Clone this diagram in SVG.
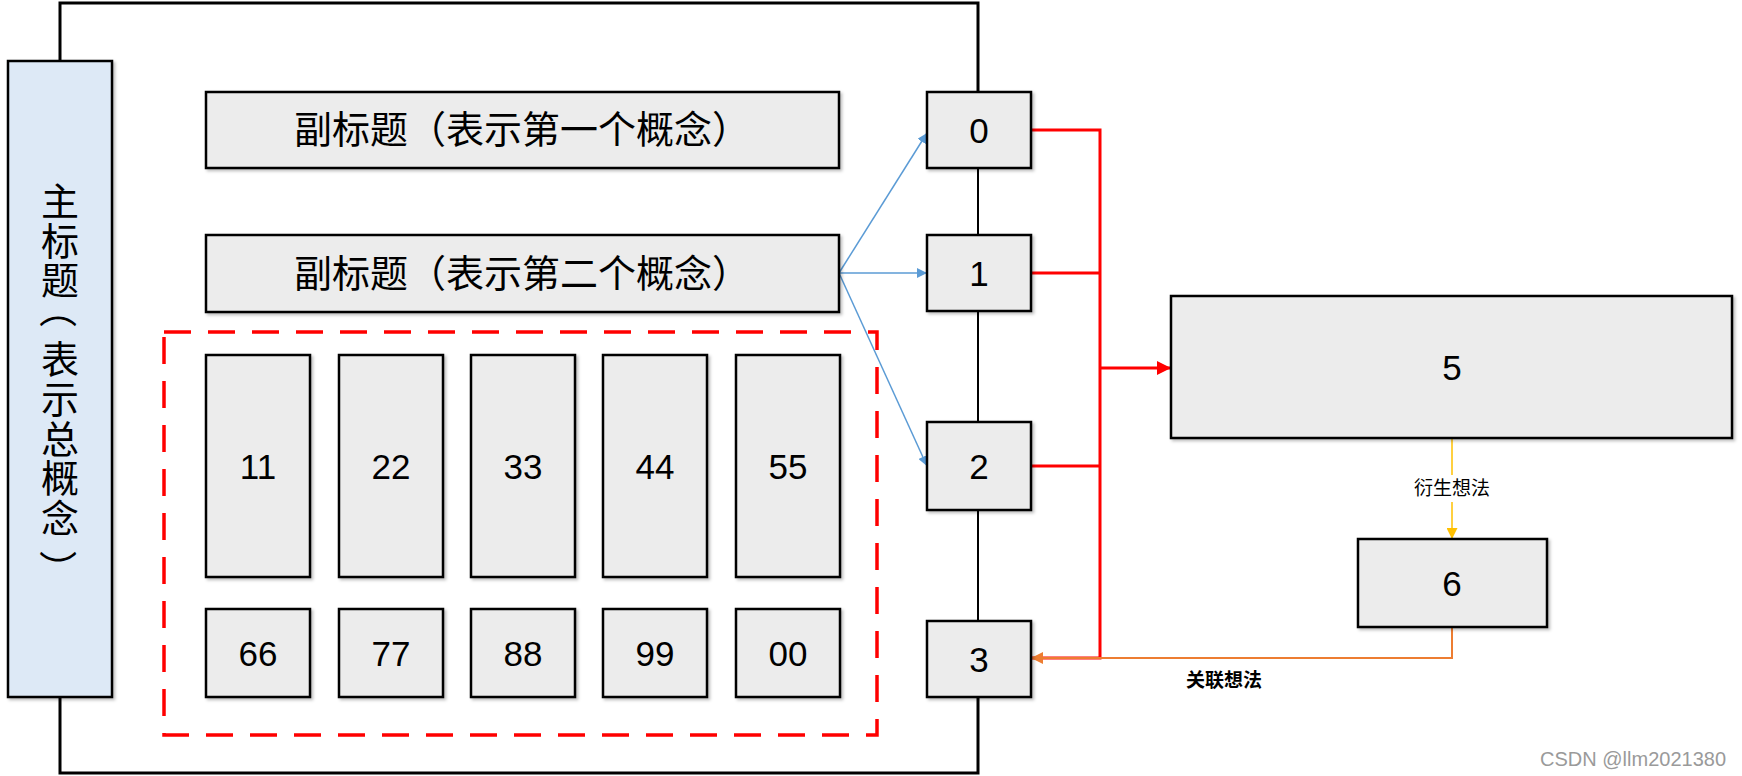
<svg xmlns="http://www.w3.org/2000/svg" width="1742" height="776" viewBox="0 0 1742 776">
<style>
.box{fill:#ececec;stroke:#000;stroke-width:2.5;filter:url(#sh)}
.num{font-family:"Liberation Sans","Noto Sans CJK SC",sans-serif;font-size:35px;fill:#000;text-anchor:middle}
.cjk{font-family:"Noto Sans CJK SC",sans-serif;fill:#000;text-anchor:middle}
.blue{stroke:#5b9bd5;stroke-width:1.5;fill:none}
.red{stroke:#ff0000;stroke-width:3;fill:none}
.vert{writing-mode:vertical-rl;text-orientation:upright;letter-spacing:1.6px}
</style>
<defs>
<filter id="sh" x="-10%" y="-10%" width="130%" height="130%">
<feDropShadow dx="2" dy="2" stdDeviation="1.5" flood-color="#000" flood-opacity="0.25"/>
</filter>
<marker id="ab" viewBox="0 0 10 10" refX="10" refY="5" markerWidth="10" markerHeight="10" markerUnits="userSpaceOnUse" orient="auto">
<path d="M0,0 L10,5 L0,10 z" fill="#5b9bd5"/>
</marker>
<marker id="ar" viewBox="0 0 10 10" refX="10" refY="5" markerWidth="14" markerHeight="14" markerUnits="userSpaceOnUse" orient="auto">
<path d="M0,0 L10,5 L0,10 z" fill="#ff0000"/>
</marker>
<marker id="ay" viewBox="0 0 10 10" refX="10" refY="5" markerWidth="11" markerHeight="11" markerUnits="userSpaceOnUse" orient="auto">
<path d="M0,0 L10,5 L0,10 z" fill="#ffc000"/>
</marker>
<marker id="ao" viewBox="0 0 10 10" refX="10" refY="5" markerWidth="12" markerHeight="12" markerUnits="userSpaceOnUse" orient="auto">
<path d="M0,0 L10,5 L0,10 z" fill="#ed7d31"/>
</marker>
</defs>
<rect x="0" y="0" width="1742" height="776" fill="#fff"/>

<g id="frame" fill="none" stroke="#000">
<path d="M60,61 V3 H978 V92" stroke-width="3"/>
<path d="M978,168 V621" stroke-width="2"/>
<path d="M978,697 V773 H60 V697" stroke-width="3"/>
</g>

<g id="connectors">
<path class="blue" d="M839,273 L927,133" marker-end="url(#ab)"/>
<path class="blue" d="M839,273 L927,273" marker-end="url(#ab)"/>
<path class="blue" d="M839,273 L927,466" marker-end="url(#ab)"/>
<path class="red" d="M1031,130 H1100 V658 H1031"/>
<path class="red" d="M1031,273 H1100"/>
<path class="red" d="M1031,466 H1100"/>
<path class="red" d="M1100,368 H1171" marker-end="url(#ar)"/>
<path d="M1452,438 V539" stroke="#ffc000" stroke-width="1.5" fill="none" marker-end="url(#ay)"/>
<path d="M1452,627 V658 H1031" stroke="#ed7d31" stroke-width="2" fill="none" marker-end="url(#ao)"/>
<rect x="1410" y="475" width="84" height="27" fill="#fff"/>
<text class="cjk" x="1452" y="495" font-size="19">衍生想法</text>
<text class="cjk" x="1224" y="687" font-size="19" font-weight="bold">关联想法</text>
</g>

<g id="main-title">
<rect x="8" y="61" width="104" height="636" fill="#dde9f6" stroke="#000" stroke-width="2.5" filter="url(#sh)"/>
<text class="cjk vert" x="60" y="241" font-size="38">主标题</text>
<text class="cjk" font-size="38" dominant-baseline="central" transform="translate(60,309) rotate(90)">（</text>
<text class="cjk vert" x="60" y="439" font-size="38">表示总概念</text>
<text class="cjk" font-size="38" dominant-baseline="central" transform="translate(60,569) rotate(90)">）</text>
</g>

<g id="sub1"><rect class="box" x="206" y="92" width="633" height="76"/><text class="cjk" x="522" y="143" font-size="38">副标题（表示第一个概念）</text></g>
<g id="sub2"><rect class="box" x="206" y="235" width="633" height="77"/><text class="cjk" x="522" y="287" font-size="38">副标题（表示第二个概念）</text></g>

<g id="group-dashed"><rect x="164" y="332" width="713" height="403" fill="none" stroke="#ff0000" stroke-width="3.5" stroke-dasharray="27 17"/></g>

<g id="n11"><rect class="box" x="206" y="355" width="104" height="222"/><text class="num" x="258" y="479">11</text></g>
<g id="n22"><rect class="box" x="339" y="355" width="104" height="222"/><text class="num" x="391" y="479">22</text></g>
<g id="n33"><rect class="box" x="471" y="355" width="104" height="222"/><text class="num" x="523" y="479">33</text></g>
<g id="n44"><rect class="box" x="603" y="355" width="104" height="222"/><text class="num" x="655" y="479">44</text></g>
<g id="n55"><rect class="box" x="736" y="355" width="104" height="222"/><text class="num" x="788" y="479">55</text></g>

<g id="n66"><rect class="box" x="206" y="609" width="104" height="88"/><text class="num" x="258" y="666">66</text></g>
<g id="n77"><rect class="box" x="339" y="609" width="104" height="88"/><text class="num" x="391" y="666">77</text></g>
<g id="n88"><rect class="box" x="471" y="609" width="104" height="88"/><text class="num" x="523" y="666">88</text></g>
<g id="n99"><rect class="box" x="603" y="609" width="104" height="88"/><text class="num" x="655" y="666">99</text></g>
<g id="n00"><rect class="box" x="736" y="609" width="104" height="88"/><text class="num" x="788" y="666">00</text></g>

<g id="b0"><rect class="box" x="927" y="92" width="104" height="76"/><text class="num" x="979" y="143">0</text></g>
<g id="b1"><rect class="box" x="927" y="235" width="104" height="76"/><text class="num" x="979" y="286">1</text></g>
<g id="b2"><rect class="box" x="927" y="422" width="104" height="88"/><text class="num" x="979" y="479">2</text></g>
<g id="b3"><rect class="box" x="927" y="621" width="104" height="76"/><text class="num" x="979" y="672">3</text></g>

<g id="b5"><rect class="box" x="1171" y="296" width="561" height="142"/><text class="num" x="1452" y="380">5</text></g>
<g id="b6"><rect class="box" x="1358" y="539" width="189" height="88"/><text class="num" x="1452" y="596">6</text></g>

<text x="1726" y="766" font-family="Liberation Sans,sans-serif" font-size="20" fill="#9a9a9a" text-anchor="end">CSDN @llm2021380</text>
</svg>
